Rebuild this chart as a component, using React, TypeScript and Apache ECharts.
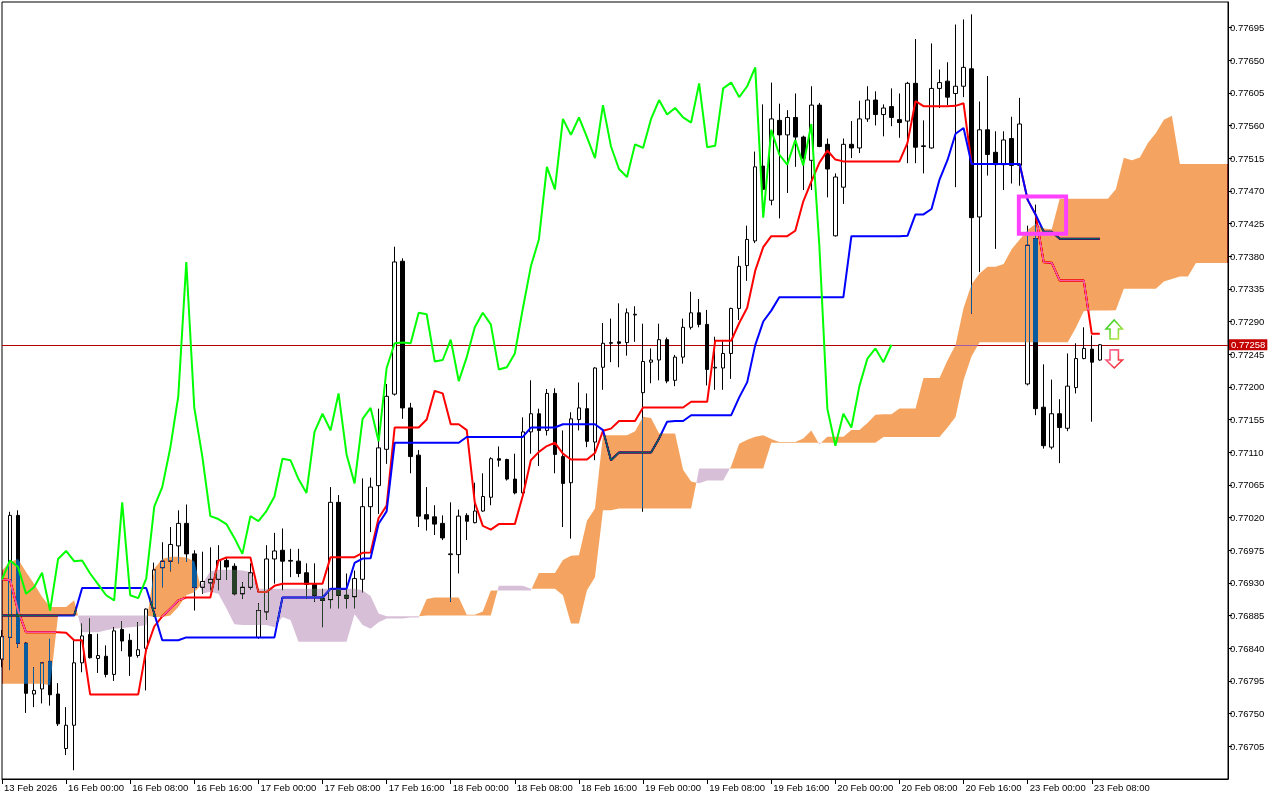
import React, { useEffect, useRef } from "react";
import * as echarts from "echarts";

// ---------- axis texts ----------
const tickLabels = [
  "13 Feb 2026", "16 Feb 00:00", "16 Feb 08:00", "16 Feb 16:00", "17 Feb 00:00", "17 Feb 08:00",
  "17 Feb 16:00", "18 Feb 00:00", "18 Feb 08:00", "18 Feb 16:00", "19 Feb 00:00", "19 Feb 08:00",
  "19 Feb 16:00", "20 Feb 00:00", "20 Feb 08:00", "20 Feb 16:00", "23 Feb 00:00", "23 Feb 08:00",
];
const barsPerLabel = 8;
const priceTicks = [
  0.76705, 0.7675, 0.76795, 0.7684, 0.76885, 0.7693, 0.76975, 0.7702, 0.77065, 0.7711, 0.77155, 0.772,
  0.77245, 0.7729, 0.77335, 0.7738, 0.77425, 0.7747, 0.77515, 0.7756, 0.77605, 0.7765, 0.77695,
];

// ---------- H1 candles ----------
const opens = [
  0.76825, 0.76855, 0.77023, 0.76847, 0.76777, 0.76784, 0.76822, 0.76777, 0.76702, 0.76734,
  0.76820, 0.76859, 0.76826, 0.76829, 0.76804, 0.76866, 0.76851, 0.76830, 0.76840, 0.76895,
  0.76951, 0.76960, 0.76981, 0.77012, 0.76970, 0.76924, 0.76930, 0.76935, 0.76961, 0.76953,
  0.76915, 0.76924, 0.76855, 0.76890, 0.76963, 0.76975, 0.76960, 0.76960, 0.76944, 0.76928,
  0.76909, 0.76907, 0.77041, 0.76913, 0.76911, 0.76935, 0.77035, 0.77064, 0.77114, 0.77190,
  0.77373, 0.77171, 0.77106, 0.77024, 0.77021, 0.77012, 0.76969, 0.76969, 0.77023, 0.77013,
  0.77029, 0.77048, 0.77101, 0.77100, 0.77073, 0.77054, 0.77138, 0.77163, 0.77140, 0.77191,
  0.77104, 0.77068, 0.77155, 0.77170, 0.77124, 0.77227, 0.77260, 0.77262, 0.77261, 0.77299,
  0.77192, 0.77234, 0.77237, 0.77265, 0.77209, 0.77241, 0.77282, 0.77302, 0.77286, 0.77226,
  0.77226, 0.77246, 0.77308, 0.77367, 0.77401, 0.77504, 0.77457, 0.77567, 0.77547, 0.77571,
  0.77544, 0.77512, 0.77588, 0.77534, 0.77408, 0.77475, 0.77534, 0.77529, 0.77569, 0.77595,
  0.77575, 0.77586, 0.77568, 0.77566, 0.77618, 0.77531, 0.77529, 0.77611, 0.77621, 0.77604,
  0.77614, 0.77638, 0.77434, 0.77554, 0.77523, 0.77506, 0.77542, 0.77505, 0.77204, 0.77404,
  0.77172, 0.77117, 0.77163, 0.77143, 0.77199, 0.77239, 0.77252, 0.77237,
];
const highs = [
  0.76865, 0.77028, 0.77030, 0.76848, 0.76814, 0.76821, 0.76853, 0.76792, 0.76759, 0.76851,
  0.76874, 0.76881, 0.76860, 0.76844, 0.76869, 0.76877, 0.76860, 0.76876, 0.76895, 0.76958,
  0.76986, 0.77007, 0.77030, 0.77038, 0.76975, 0.76973, 0.76979, 0.76982, 0.76964, 0.76957,
  0.76931, 0.76957, 0.76902, 0.76982, 0.76999, 0.77005, 0.76977, 0.76977, 0.76957, 0.76957,
  0.76922, 0.77062, 0.77051, 0.76943, 0.76947, 0.77074, 0.77075, 0.77170, 0.77204, 0.77393,
  0.77377, 0.77178, 0.77113, 0.77062, 0.77037, 0.77023, 0.77041, 0.77031, 0.77026, 0.77068,
  0.77081, 0.77103, 0.77118, 0.77101, 0.77108, 0.77158, 0.77209, 0.77170, 0.77197, 0.77198,
  0.77140, 0.77165, 0.77206, 0.77191, 0.77227, 0.77288, 0.77294, 0.77315, 0.77308, 0.77311,
  0.77287, 0.77253, 0.77287, 0.77268, 0.77244, 0.77294, 0.77331, 0.77321, 0.77306, 0.77269,
  0.77263, 0.77309, 0.77380, 0.77422, 0.77524, 0.77589, 0.77619, 0.77590, 0.77581, 0.77604,
  0.77546, 0.77614, 0.77591, 0.77542, 0.77494, 0.77542, 0.77566, 0.77594, 0.77614, 0.77607,
  0.77589, 0.77611, 0.77604, 0.77620, 0.77679, 0.77567, 0.77673, 0.77637, 0.77647, 0.77699,
  0.77706, 0.77713, 0.77593, 0.77628, 0.77552, 0.77552, 0.77572, 0.77598, 0.77422, 0.77451,
  0.77231, 0.77210, 0.77183, 0.77246, 0.77260, 0.77282, 0.77271, 0.77259,
];
const lows = [
  0.76814, 0.76810, 0.76841, 0.76751, 0.76759, 0.76764, 0.76761, 0.76733, 0.76693, 0.76672,
  0.76807, 0.76826, 0.76806, 0.76800, 0.76795, 0.76836, 0.76802, 0.76827, 0.76782, 0.76883,
  0.76924, 0.76946, 0.76957, 0.76959, 0.76892, 0.76915, 0.76920, 0.76920, 0.76934, 0.76913,
  0.76908, 0.76921, 0.76853, 0.76879, 0.76929, 0.76920, 0.76938, 0.76938, 0.76908, 0.76904,
  0.76869, 0.76895, 0.76895, 0.76895, 0.76895, 0.76917, 0.77000, 0.77025, 0.77094, 0.77188,
  0.77156, 0.77081, 0.77007, 0.77002, 0.76996, 0.76989, 0.76904, 0.76943, 0.76989, 0.77012,
  0.77028, 0.77037, 0.77090, 0.77071, 0.77052, 0.77053, 0.77108, 0.77091, 0.77133, 0.77081,
  0.77007, 0.76991, 0.77140, 0.77117, 0.77099, 0.77196, 0.77234, 0.77227, 0.77243, 0.77262,
  0.77028, 0.77205, 0.77209, 0.77205, 0.77201, 0.77232, 0.77279, 0.77282, 0.77202, 0.77196,
  0.77196, 0.77211, 0.77292, 0.77346, 0.77398, 0.77457, 0.77450, 0.77432, 0.77467, 0.77503,
  0.77471, 0.77471, 0.77530, 0.77461, 0.77407, 0.77452, 0.77515, 0.77522, 0.77565, 0.77560,
  0.77545, 0.77559, 0.77543, 0.77508, 0.77508, 0.77494, 0.77528, 0.77584, 0.77588, 0.77475,
  0.77599, 0.77301, 0.77358, 0.77491, 0.77390, 0.77471, 0.77480, 0.77477, 0.77202, 0.77161,
  0.77115, 0.77114, 0.77095, 0.77139, 0.77191, 0.77238, 0.77152, 0.77236,
];
const closes = [
  0.76856, 0.77023, 0.76847, 0.76778, 0.76782, 0.76820, 0.76776, 0.76736, 0.76734, 0.76820,
  0.76857, 0.76827, 0.76830, 0.76804, 0.76864, 0.76850, 0.76829, 0.76838, 0.76894, 0.76948,
  0.76960, 0.76983, 0.77012, 0.76970, 0.76924, 0.76932, 0.76935, 0.76961, 0.76952, 0.76915,
  0.76924, 0.76944, 0.76892, 0.76963, 0.76974, 0.76960, 0.76961, 0.76943, 0.76928, 0.76913,
  0.76906, 0.77041, 0.76913, 0.76909, 0.76936, 0.77035, 0.77062, 0.77116, 0.77187, 0.77372,
  0.77171, 0.77104, 0.77022, 0.77018, 0.77011, 0.76992, 0.76970, 0.77022, 0.77015, 0.77029,
  0.77049, 0.77101, 0.77099, 0.77073, 0.77054, 0.77138, 0.77163, 0.77140, 0.77191, 0.77107,
  0.77067, 0.77156, 0.77171, 0.77125, 0.77226, 0.77260, 0.77261, 0.77260, 0.77302, 0.77300,
  0.77235, 0.77237, 0.77265, 0.77208, 0.77241, 0.77282, 0.77302, 0.77286, 0.77224, 0.77227,
  0.77246, 0.77308, 0.77366, 0.77403, 0.77503, 0.77472, 0.77569, 0.77547, 0.77571, 0.77544,
  0.77515, 0.77588, 0.77531, 0.77500, 0.77489, 0.77534, 0.77529, 0.77569, 0.77595, 0.77575,
  0.77584, 0.77571, 0.77564, 0.77618, 0.77530, 0.77532, 0.77611, 0.77619, 0.77599, 0.77614,
  0.77640, 0.77433, 0.77554, 0.77520, 0.77506, 0.77540, 0.77505, 0.77562, 0.77395, 0.77170,
  0.77119, 0.77163, 0.77144, 0.77201, 0.77239, 0.77253, 0.77234, 0.77258,
];

// Indicator values at the left edge, whose history lies before the first visible bar
const tenkanLead = [0.76935, 0.76934, 0.76892, 0.76862, 0.76862, 0.76862, 0.76862, 0.76862];
const kijunLead = [
  0.76885, 0.76885, 0.76885, 0.76885, 0.76885, 0.76885, 0.76885, 0.76885, 0.76885, 0.76885,
  0.76923, 0.76923, 0.76923, 0.76923, 0.76923, 0.76923, 0.76923, 0.76923, 0.76923, 0.76888,
  0.76851, 0.76851, 0.76851, 0.76855, 0.76855,
];
const spanALead = [
  0.76947, 0.76959, 0.76963, 0.76945, 0.76929, 0.76911, 0.76897, 0.76897, 0.76897, 0.76906,
  0.76862, 0.76862, 0.76862, 0.76865, 0.76867, 0.76868, 0.76869, 0.76870, 0.76872, 0.76950,
  0.76963, 0.76966, 0.76966, 0.76965, 0.76960, 0.76915, 0.76918, 0.76915, 0.76895, 0.76873,
  0.76872, 0.76872, 0.76872, 0.76872, 0.76869, 0.76883, 0.76879, 0.76849, 0.76849, 0.76849,
  0.76849, 0.76849, 0.76849, 0.76849, 0.76887, 0.76872, 0.76867, 0.76876, 0.76881, 0.76881,
  0.76881,
];
const spanBLead = [
  0.76791, 0.76791, 0.76791, 0.76791, 0.76791, 0.76791, 0.76789, 0.76885, 0.76885, 0.76885,
  0.76885, 0.76885, 0.76885, 0.76885, 0.76885, 0.76885, 0.76885, 0.76885, 0.76885, 0.76883,
  0.76883, 0.76885, 0.76897, 0.76913, 0.76917, 0.76929, 0.76946, 0.76948, 0.76948, 0.76948,
  0.76947, 0.76945, 0.76922, 0.76922, 0.76922, 0.76922, 0.76922, 0.76922, 0.76922, 0.76922,
  0.76922, 0.76922, 0.76922, 0.76922, 0.76922, 0.76920, 0.76912, 0.76888, 0.76884, 0.76884,
  0.76884, 0.76884, 0.76884, 0.76885, 0.76885, 0.76885, 0.76885, 0.76885, 0.76885, 0.76885,
  0.76885, 0.76885, 0.76926, 0.76926, 0.76926, 0.76926, 0.76922, 0.76922, 0.76922, 0.76922,
  0.76913, 0.76874, 0.76874, 0.76920, 0.76938, 0.77030, 0.77030,
];

// Chart objects (anchored in bar index / price)
const rectBars = [126.9, 132.8];
const rectPrices = [0.77462, 0.77411];
const arrowBar = 138.8;
const upArrowPrices = [0.77292, 0.77266];
const downArrowPrices = [0.77251, 0.77226];

// ---------- Ichimoku (9, 26, 52) from the candles ----------
const barCount = closes.length;
const axisCount = 154;
const midHL = (from: number, to: number) => {
  let h = -Infinity;
  let l = Infinity;
  for (let i = from; i <= to; i++) {
    h = Math.max(h, highs[i]);
    l = Math.min(l, lows[i]);
  }
  return (h + l) / 2;
};
const tenkan = closes.map((_, k) => (k < tenkanLead.length ? tenkanLead[k] : midHL(k - 8, k)));
const kijun = closes.map((_, k) => (k < kijunLead.length ? kijunLead[k] : midHL(k - 25, k)));
const spanA: number[] = [];
const spanB: number[] = [];
for (let k = 0; k < barCount + 26; k++) {
  spanA.push(k < spanALead.length ? spanALead[k] : (tenkan[k - 26] + kijun[k - 26]) / 2);
  spanB.push(k < spanBLead.length ? spanBLead[k] : midHL(k - 77, k - 26));
}
const chikou = closes.slice(26);
const lastPrice = closes[barCount - 1];

const categories = Array.from({ length: axisCount }, (_, i) => String(i));
const FONT = '"Liberation Sans", Arial, sans-serif';
const UP_XOR = "#0b5b9f"; // difference-blended over white gives sandy brown
const DOWN_XOR = "#274027"; // difference-blended over white gives thistle
const BLEND_FILLS = ["#0b5b9f", "rgb(11,91,159)", "#274027", "rgb(39,64,39)"];

const showTick = (i: number) => i % barsPerLabel === 0 && i / barsPerLabel < tickLabels.length;

export default function App() {
  const ref = useRef<HTMLDivElement>(null);

  useEffect(() => {
    if (!ref.current) return;
    const chart = echarts.init(ref.current, undefined, { renderer: "svg" });

    const cloudRender = (_params: any, api: any) => {
      const last = axisCount - 1;
      type Node = { x: number; a: number; b: number };
      const runs: { up: boolean; nodes: Node[] }[] = [];
      let cur: { up: boolean; nodes: Node[] } | null = null;
      for (let k = 0; k <= last; k++) {
        const a = spanA[k];
        const b = spanB[k];
        const up = a >= b;
        if (!cur) {
          cur = { up, nodes: [{ x: k, a, b }] };
          runs.push(cur);
          continue;
        }
        if (up === cur.up) {
          cur.nodes.push({ x: k, a, b });
        } else {
          const pa = spanA[k - 1];
          const pb = spanB[k - 1];
          const d0 = pa - pb;
          const d1 = a - b;
          const t = d0 === d1 ? 0 : d0 / (d0 - d1);
          const v = pa + t * (a - pa);
          const cross = { x: k - 1 + t, a: v, b: v };
          cur.nodes.push(cross);
          cur = { up, nodes: [cross, { x: k, a, b }] };
          runs.push(cur);
        }
      }
      const toPx = (x: number, v: number) => {
        const k0 = Math.floor(x);
        const t = x - k0;
        const p0 = api.coord([k0, v]);
        if (t === 0) return p0;
        const p1 = api.coord([k0 + 1, v]);
        return [p0[0] + t * (p1[0] - p0[0]), p0[1]];
      };
      const children = runs
        .filter((r) => r.nodes.length >= 2)
        .map((r) => {
          const pts = r.nodes
            .map((n) => toPx(n.x, n.a))
            .concat(r.nodes.slice().reverse().map((n) => toPx(n.x, n.b)));
          return {
            type: "polygon",
            shape: { points: pts },
            style: { fill: r.up ? UP_XOR : DOWN_XOR, stroke: null },
          };
        });
      return { type: "group", children };
    };

    const option: any = {
      animation: false,
      backgroundColor: "#ffffff",
      textStyle: { fontFamily: FONT },
      grid: {
        left: 2,
        right: 52,
        top: 2,
        bottom: 21,
        show: true,
        borderColor: "#000000",
        borderWidth: 1,
        backgroundColor: "transparent",
      },
      xAxis: {
        type: "category",
        data: categories,
        boundaryGap: false,
        axisLine: { show: true, lineStyle: { color: "#000000", width: 1 } },
        axisTick: { show: true, interval: showTick, length: 5, lineStyle: { color: "#000000" } },
        axisLabel: {
          interval: showTick,
          formatter: (_v: string, i: number) => tickLabels[i / barsPerLabel] ?? "",
          align: "left",
          padding: [0, 0, 0, 2],
          margin: 3,
          color: "#000000",
          fontSize: 9.5,
          fontFamily: FONT,
        },
        splitLine: { show: false },
      },
      yAxis: {
        type: "value",
        position: "right",
        min: 0.7666,
        max: 0.7773,
        axisLine: { show: true, lineStyle: { color: "#000000" } },
        axisTick: { show: true, length: 4, customValues: priceTicks, lineStyle: { color: "#000000" } },
        axisLabel: {
          customValues: priceTicks,
          formatter: (v: number) => v.toFixed(5),
          margin: 2,
          color: "#000000",
          fontSize: 9.5,
          fontFamily: FONT,
        },
        splitLine: { show: false },
      },
      series: [
        {
          type: "candlestick",
          z: 2,
          silent: true,
          barWidth: 4,
          data: opens.map((o, i) => [o, closes[i], lows[i], highs[i]]),
          itemStyle: {
            color: "#ffffff",
            color0: "#000000",
            borderColor: "#000000",
            borderColor0: "#000000",
            borderColorDoji: "#000000",
            borderWidth: 1,
          },
        },
        {
          type: "line",
          name: "Tenkan-sen",
          z: 3,
          silent: true,
          symbol: "none",
          data: tenkan,
          lineStyle: { color: "#ff0000", width: 2 },
        },
        {
          type: "line",
          name: "Kijun-sen",
          z: 3,
          silent: true,
          symbol: "none",
          data: kijun,
          lineStyle: { color: "#0000ff", width: 2 },
          markLine: {
            silent: true,
            symbol: "none",
            z: 2,
            animation: false,
            precision: 5,
            data: [{ yAxis: lastPrice }],
            lineStyle: { color: "#b00000", width: 1, type: "solid" },
            label: {
              show: true,
              position: "end",
              distance: 1,
              formatter: lastPrice.toFixed(5),
              color: "#ffffff",
              backgroundColor: "#c40000",
              padding: [1, 2, 0, 2],
              fontSize: 9.5,
              fontFamily: FONT,
            },
            emphasis: { disabled: true },
          },
        },
        {
          type: "custom",
          name: "Kumo",
          z: 4,
          silent: true,
          clip: false,
          data: [[0, 0.77]],
          renderItem: cloudRender,
        },
        {
          type: "line",
          name: "Chikou Span",
          z: 5,
          silent: true,
          symbol: "none",
          data: chikou,
          lineStyle: { color: "#00ff00", width: 2 },
        },
      ],
    };

    chart.setOption(option);

    const px = (bar: number, price: number) => {
      const b0 = Math.floor(bar);
      const t = bar - b0;
      const p0 = chart.convertToPixel({ gridIndex: 0 }, [b0, price]) as number[];
      const p1 = chart.convertToPixel({ gridIndex: 0 }, [b0 + 1, price]) as number[];
      return [p0[0] + t * (p1[0] - p0[0]), p0[1]];
    };
    const r1 = px(rectBars[0], rectPrices[0]);
    const r2 = px(rectBars[1], rectPrices[1]);
    const up1 = px(arrowBar, upArrowPrices[0]);
    const up2 = px(arrowBar, upArrowPrices[1]);
    const dn1 = px(arrowBar, downArrowPrices[0]);
    const dn2 = px(arrowBar, downArrowPrices[1]);
    const hw = 8.2;
    const sw = 4.2;
    const cx = up1[0];
    const uT = up1[1];
    const uB = up2[1];
    const uH = 9;
    const dT = dn1[1];
    const dB = dn2[1];
    const dH = 8;

    chart.setOption({
      graphic: [
        {
          type: "rect",
          z: 100,
          silent: true,
          shape: { x: r1[0], y: r1[1], width: r2[0] - r1[0], height: r2[1] - r1[1] },
          style: { fill: "none", stroke: "#ff40ff", lineWidth: 4 },
        },
        {
          type: "polygon",
          z: 100,
          silent: true,
          shape: {
            points: [
              [cx, uT],
              [cx + hw, uT + uH],
              [cx + sw, uT + uH],
              [cx + sw, uB],
              [cx - sw, uB],
              [cx - sw, uT + uH],
              [cx - hw, uT + uH],
            ],
          },
          style: {
            fill: "#ffffff",
            lineWidth: 1.6,
            stroke: new echarts.graphic.LinearGradient(0, 0, 1, 1, [
              { offset: 0, color: "#22cc22" },
              { offset: 1, color: "#c8e84a" },
            ]),
          },
        },
        {
          type: "polygon",
          z: 100,
          silent: true,
          shape: {
            points: [
              [cx - sw, dT],
              [cx + sw, dT],
              [cx + sw, dB - dH],
              [cx + hw, dB - dH],
              [cx, dB],
              [cx - hw, dB - dH],
              [cx - sw, dB - dH],
            ],
          },
          style: {
            fill: "#ffffff",
            lineWidth: 1.6,
            stroke: new echarts.graphic.LinearGradient(0, 0, 1, 1, [
              { offset: 0, color: "#ff77aa" },
              { offset: 1, color: "#ee2222" },
            ]),
          },
        },
      ],
    });

    // MetaTrader paints the cloud in XOR mode: reproduce it with a difference blend
    const applyBlend = () => {
      const root = ref.current;
      if (!root) return;
      root.querySelectorAll("path, polygon").forEach((el) => {
        const f = (el.getAttribute("fill") || "").replace(/\s/g, "").toLowerCase();
        if (BLEND_FILLS.includes(f)) {
          const s = (el as SVGElement).style;
          if (s.mixBlendMode !== "difference") s.mixBlendMode = "difference";
        }
      });
    };
    applyBlend();
    const raf = requestAnimationFrame(applyBlend);
    const t1 = setTimeout(applyBlend, 60);
    const t2 = setTimeout(applyBlend, 400);

    return () => {
      cancelAnimationFrame(raf);
      clearTimeout(t1);
      clearTimeout(t2);
      chart.dispose();
    };
  }, []);

  return (
    <div
      ref={ref}
      style={{ position: "fixed", left: 0, top: 0, width: 1280, height: 800, background: "#ffffff" }}
    />
  );
}
